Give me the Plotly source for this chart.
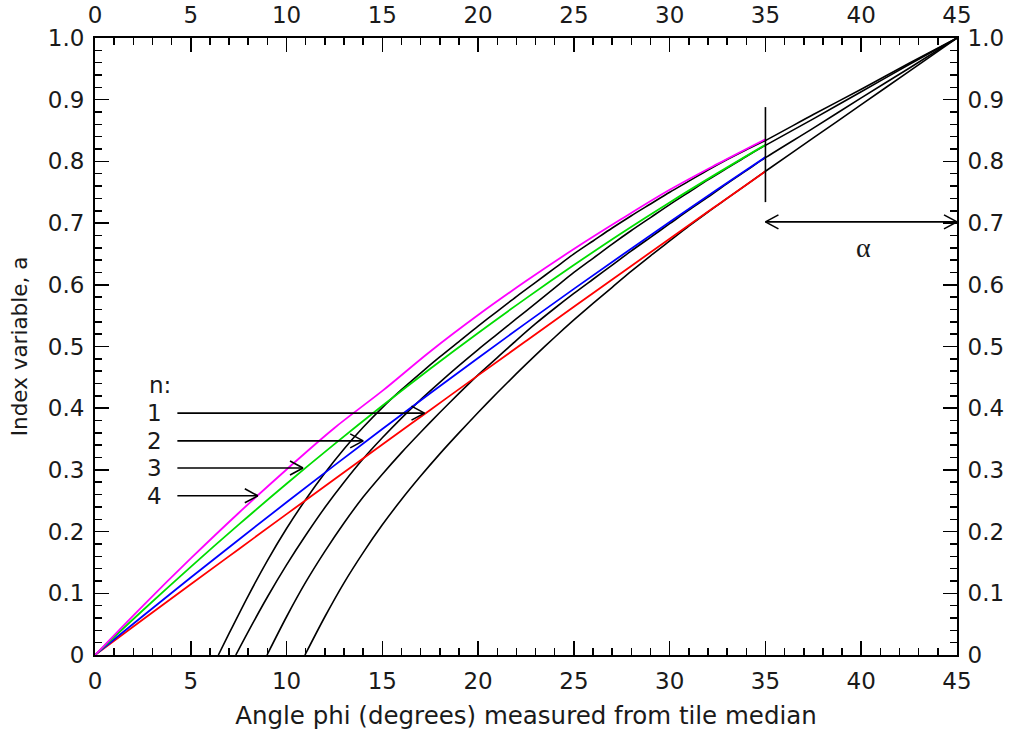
import plotly.graph_objects as go

# ---------------- data ----------------
phi = [0, 2.5, 5, 7.5, 10, 12.5, 15, 17.5, 20, 22.5, 25, 27.5, 30, 32.5, 35]
a_n4_magenta = [0, 0.0798, 0.1565, 0.2302, 0.3007, 0.368, 0.428, 0.492, 0.551, 0.606, 0.658, 0.707, 0.754, 0.796, 0.836]
a_n3_green = [0, 0.0725, 0.1429, 0.2112, 0.2775, 0.3417, 0.4039, 0.464, 0.522, 0.578, 0.632, 0.684, 0.7335, 0.781, 0.827]
a_n2_blue = [0, 0.0632, 0.1255, 0.1869, 0.2475, 0.3073, 0.3662, 0.4242, 0.4815, 0.5379, 0.5934, 0.648, 0.7019, 0.7549, 0.807]
a_n1_red = [0, 0.0574, 0.1146, 0.1715, 0.2283, 0.2848, 0.3411, 0.3972, 0.4532, 0.5088, 0.5643, 0.6196, 0.6747, 0.7295, 0.784]

tail_x = [37.5, 40, 42.5, 45]

blk1_x = [6.44, 7, 8, 9, 10, 11, 12, 13, 14, 15, 16, 17, 18, 19, 20, 21, 22, 23, 24, 25, 26, 27, 28, 29, 30, 31, 32, 33, 34, 35] + tail_x
blk1_y = [0, 0.035, 0.096, 0.153, 0.205, 0.252, 0.295, 0.334, 0.369, 0.401, 0.430, 0.457, 0.483, 0.508, 0.533,
          0.557, 0.581, 0.604, 0.627, 0.650, 0.671, 0.692, 0.712, 0.731, 0.750, 0.768, 0.786, 0.803, 0.819, 0.834,
          0.876, 0.917, 0.959, 1.0]
blk2_x = [7.35, 8, 9, 10, 11, 12, 13, 14, 15, 16, 17, 18, 19, 20, 21, 22, 23, 24, 25, 26, 27, 28, 29, 30, 31, 32, 33, 34, 35] + tail_x
blk2_y = [0, 0.038, 0.094, 0.146, 0.194, 0.239, 0.280, 0.318, 0.352, 0.384, 0.414, 0.442, 0.469, 0.495,
          0.520, 0.545, 0.570, 0.595, 0.620, 0.643, 0.666, 0.688, 0.709, 0.730, 0.750, 0.770, 0.789, 0.808, 0.826,
          0.869, 0.913, 0.957, 1.0]
blk3_x = [8.98, 10, 11, 12, 13, 14, 15, 16, 17, 18, 19, 20, 21, 22, 23, 24, 25, 26, 27, 28, 29, 30, 31, 32, 33, 34, 35] + tail_x
blk3_y = [0, 0.062, 0.118, 0.168, 0.214, 0.256, 0.293, 0.328, 0.361, 0.393, 0.424, 0.454, 0.482, 0.510, 0.537,
          0.562, 0.586, 0.609, 0.632, 0.655, 0.677, 0.699, 0.721, 0.742, 0.764, 0.785, 0.806,
          0.854, 0.903, 0.951, 1.0]
blk4_x = [10.96, 12, 13, 14, 15, 16, 17, 18, 19, 20, 21, 22, 23, 24, 25, 26, 27, 28, 29, 30, 31, 32, 33, 34, 35] + tail_x
blk4_y = [0, 0.062, 0.117, 0.166, 0.211, 0.252, 0.290, 0.326, 0.360, 0.393, 0.425, 0.456, 0.486, 0.515, 0.543,
          0.570, 0.596, 0.622, 0.647, 0.671, 0.695, 0.718, 0.740, 0.762, 0.784,
          0.838, 0.892, 0.946, 1.0]

x_ticks = [0, 5, 10, 15, 20, 25, 30, 35, 40, 45]
y_ticks = [0, 0.1, 0.2, 0.3, 0.4, 0.5, 0.6, 0.7, 0.8, 0.9, 1.0]
y_ticktext = ["0", "0.1", "0.2", "0.3", "0.4", "0.5", "0.6", "0.7", "0.8", "0.9", "1.0"]

n_labels = ["1", "2", "3", "4"]
n_arrow_y = [0.392, 0.347, 0.303, 0.258]
n_arrow_x0 = [4.3, 4.3, 4.3, 4.3]
n_arrow_x1 = [17.2, 14.0, 10.86, 8.5]
n_label_x = 3.1
n_header_y = 0.438

alpha_y = 0.702
alpha_x0, alpha_x1 = 35, 45
alpha_label = (40.1, 0.66)
vline_x = 35
vline_y = (0.734, 0.888)

FONT = "DejaVu Sans, sans-serif"
TXT = "#1a1a1a"

fig = go.Figure()

for xs, ys in [(blk1_x, blk1_y), (blk2_x, blk2_y), (blk3_x, blk3_y), (blk4_x, blk4_y)]:
    fig.add_trace(go.Scatter(x=xs, y=ys, mode="lines", line=dict(color="black", width=1.6, shape="spline", smoothing=0.8),
                             showlegend=False, hoverinfo="skip"))

for ys, col in [(a_n1_red, "#ff0000"), (a_n2_blue, "#0000ff"), (a_n3_green, "#00dd00"), (a_n4_magenta, "#ff00ff")]:
    fig.add_trace(go.Scatter(x=phi, y=ys, mode="lines", line=dict(color=col, width=1.8, shape="spline", smoothing=1.0),
                             showlegend=False, hoverinfo="skip"))

# invisible trace to activate top/right axes
fig.add_trace(go.Scatter(x=[0, 45], y=[0, 1], xaxis="x2", yaxis="y2", mode="markers",
                         marker=dict(opacity=0), showlegend=False, hoverinfo="skip"))

shapes = []
def chevron(xa, ya, direction, L=13, H=7):
    for s in (1, -1):
        shapes.append(dict(type="line", xref="x", yref="y", xsizemode="pixel", ysizemode="pixel",
                           xanchor=xa, yanchor=ya, x0=-direction * L, y0=s * H, x1=0, y1=0,
                           line=dict(color="black", width=1.6)))

for lab, yv, x0, x1 in zip(n_labels, n_arrow_y, n_arrow_x0, n_arrow_x1):
    shapes.append(dict(type="line", xref="x", yref="y", x0=x0, x1=x1, y0=yv, y1=yv,
                       line=dict(color="black", width=1.6)))
    chevron(x1, yv, 1)

shapes.append(dict(type="line", xref="x", yref="y", x0=alpha_x0, x1=alpha_x1, y0=alpha_y, y1=alpha_y,
                   line=dict(color="black", width=1.6)))
chevron(alpha_x1, alpha_y, 1)
chevron(alpha_x0, alpha_y, -1)
shapes.append(dict(type="line", xref="x", yref="y", x0=vline_x, x1=vline_x, y0=vline_y[0], y1=vline_y[1],
                   line=dict(color="black", width=1.6)))

annotations = [dict(x=3.4, y=n_header_y, text="n:", showarrow=False, xref="x", yref="y",
                    font=dict(size=23, family=FONT, color=TXT))]
for lab, yv in zip(n_labels, n_arrow_y):
    annotations.append(dict(x=n_label_x, y=yv, text=lab, showarrow=False, xref="x", yref="y",
                            font=dict(size=23, family=FONT, color=TXT)))
annotations.append(dict(x=alpha_label[0], y=alpha_label[1], text="α", showarrow=False, xref="x", yref="y",
                        font=dict(size=28, family="Liberation Serif, serif", color=TXT)))

axis_common = dict(showgrid=False, zeroline=False, showline=True, linecolor="black", linewidth=2,
                   ticks="inside", ticklen=14, tickwidth=1.5, tickcolor="black", automargin=False,
                   ticklabelstandoff=4,
                   tickfont=dict(size=23, family=FONT, color=TXT))

fig.update_layout(
    width=1011, height=734,
    margin=dict(l=95, r=54, t=38, b=79, autoexpand=False),
    paper_bgcolor="white", plot_bgcolor="white",
    shapes=shapes, annotations=annotations,
    xaxis=dict(range=[0, 45], tickvals=x_ticks,
               minor=dict(dtick=1, ticklen=7, ticks="inside", tickwidth=1.5, tickcolor="black"),
               title=dict(text="Angle phi (degrees) measured from tile median", font=dict(size=24.5, family=FONT, color=TXT), standoff=14),
               **axis_common),
    yaxis=dict(range=[0, 1], tickvals=y_ticks, ticktext=y_ticktext,
               minor=dict(dtick=0.02, ticklen=7, ticks="inside", tickwidth=1.5, tickcolor="black"),
               title=dict(text="Index variable, a", font=dict(size=21.5, family=FONT, color=TXT), standoff=14),
               **axis_common),
    xaxis2=dict(range=[0, 45], tickvals=x_ticks, overlaying="x", side="top", anchor="y",
                minor=dict(dtick=1, ticklen=7, ticks="inside", tickwidth=1.5, tickcolor="black"),
                **axis_common),
    yaxis2=dict(range=[0, 1], tickvals=y_ticks, ticktext=y_ticktext, overlaying="y", side="right", anchor="x",
                minor=dict(dtick=0.02, ticklen=7, ticks="inside", tickwidth=1.5, tickcolor="black"),
                **axis_common),
)

# remove the browser's default 8px page margin so the figure fills the window exactly
fig.write_html("out.html", config={"displayModeBar": False, "staticPlot": True},
               post_script="document.body.style.margin='0px';document.body.style.overflow='hidden';")
